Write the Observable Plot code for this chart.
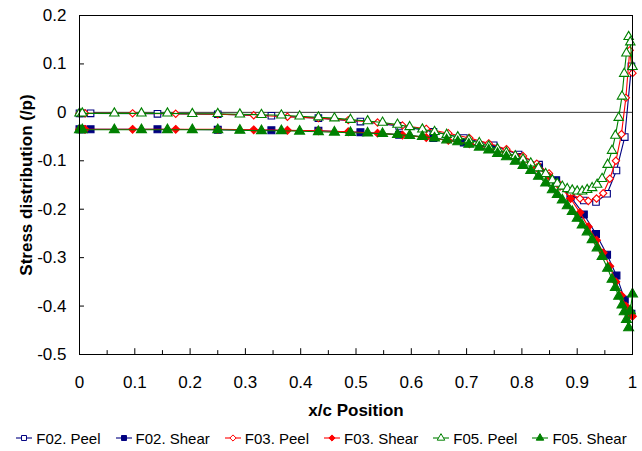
<!DOCTYPE html>
<html><head><meta charset="utf-8">
<script src="https://cdn.jsdelivr.net/npm/d3@7"></script>
<script src="https://cdn.jsdelivr.net/npm/@observablehq/plot@0.6"></script>
<style>
body{margin:0;background:#fff;}
#chart svg{display:block;}
#chart g[aria-label="x-axis label"] text, #chart g[aria-label="y-axis label"] text{font-weight:bold;}
#legend{display:flex;justify-content:center;gap:14px;height:28px;align-items:center;font-family:"Liberation Sans",Arial,sans-serif;font-size:15px;color:#000;}
#legend .item{display:flex;align-items:center;gap:3px;white-space:nowrap;}
</style></head>
<body><div id="chart"></div><div id="legend"></div>
<script>
const FONT = '"Liberation Sans",Arial,sans-serif';

// Tick labels
const xTicks = [0, 0.1, 0.2, 0.3, 0.4, 0.5, 0.6, 0.7, 0.8, 0.9, 1];
const xMinorTicks = [0.05, 0.15, 0.25, 0.35, 0.45, 0.55, 0.65, 0.75, 0.85, 0.95];
const yTicks = [-0.5, -0.4, -0.3, -0.2, -0.1, 0, 0.1, 0.2];
const baseline = [0];

// Series names
const seriesNames = ["F02. Peel", "F02. Shear", "F03. Peel", "F03. Shear", "F05. Peel", "F05. Shear"];

// F02
const f02X = [0, 0.005, 0.02, 0.141, 0.25, 0.347, 0.432, 0.508, 0.578, 0.64, 0.695, 0.749, 0.794, 0.831, 0.862, 0.888, 0.912, 0.934, 0.954, 0.971, 0.986, 0.998];
const f02Peel = [-0.002, -0.002, -0.002, -0.003, -0.004, -0.007, -0.012, -0.019, -0.028, -0.04, -0.053, -0.068, -0.087, -0.108, -0.145, -0.172, -0.182, -0.185, -0.168, -0.12, -0.051, 0.095];
const f02Shear = [-0.035, -0.035, -0.035, -0.035, -0.036, -0.037, -0.038, -0.041, -0.046, -0.053, -0.062, -0.075, -0.092, -0.114, -0.14, -0.174, -0.211, -0.251, -0.294, -0.337, -0.387, -0.416];

// F03
const f03X = [0, 0.01, 0.096, 0.174, 0.25, 0.315, 0.376, 0.432, 0.486, 0.539, 0.584, 0.627, 0.667, 0.705, 0.74, 0.772, 0.802, 0.827, 0.849, 0.869, 0.888, 0.905, 0.92, 0.935, 0.947, 0.959, 0.97, 0.98, 0.988, 0.995, 1.0];
const f03Peel = [-0.002, -0.002, -0.002, -0.003, -0.004, -0.006, -0.009, -0.012, -0.016, -0.021, -0.027, -0.034, -0.043, -0.053, -0.064, -0.076, -0.09, -0.106, -0.126, -0.15, -0.168, -0.178, -0.183, -0.178, -0.167, -0.137, -0.1, -0.045, 0.03, 0.128, 0.081];
const f03Shear = [-0.035, -0.035, -0.035, -0.035, -0.035, -0.036, -0.037, -0.038, -0.04, -0.043, -0.047, -0.052, -0.058, -0.065, -0.074, -0.085, -0.099, -0.114, -0.132, -0.153, -0.178, -0.207, -0.236, -0.264, -0.29, -0.318, -0.35, -0.378, -0.4, -0.413, -0.421];

// F05
const f05X = [0, 0.005, 0.063, 0.112, 0.159, 0.204, 0.25, 0.29, 0.329, 0.365, 0.398, 0.432, 0.461, 0.49, 0.521, 0.548, 0.575, 0.597, 0.62, 0.642, 0.664, 0.684, 0.704, 0.723, 0.74, 0.756, 0.772, 0.788, 0.802, 0.816, 0.83, 0.843, 0.855, 0.864, 0.873, 0.882, 0.891, 0.9, 0.909, 0.918, 0.927, 0.936, 0.945, 0.955, 0.963, 0.969, 0.975, 0.981, 0.985, 0.989, 0.993, 0.996, 1.0];
const f05Peel = [-0.002, -0.002, -0.002, -0.002, -0.002, -0.003, -0.003, -0.004, -0.005, -0.006, -0.008, -0.01, -0.012, -0.015, -0.018, -0.021, -0.025, -0.03, -0.035, -0.04, -0.046, -0.051, -0.057, -0.063, -0.07, -0.076, -0.083, -0.09, -0.097, -0.105, -0.115, -0.127, -0.14, -0.147, -0.153, -0.158, -0.161, -0.163, -0.163, -0.16, -0.156, -0.149, -0.137, -0.108, -0.079, -0.048, -0.011, 0.033, 0.08, 0.122, 0.156, 0.145, 0.094];
const f05Shear = [-0.036, -0.036, -0.036, -0.036, -0.036, -0.036, -0.036, -0.037, -0.038, -0.038, -0.039, -0.04, -0.041, -0.042, -0.043, -0.044, -0.046, -0.048, -0.05, -0.053, -0.057, -0.061, -0.066, -0.072, -0.078, -0.085, -0.092, -0.101, -0.11, -0.12, -0.132, -0.146, -0.16, -0.17, -0.181, -0.193, -0.205, -0.219, -0.233, -0.247, -0.263, -0.28, -0.298, -0.322, -0.345, -0.362, -0.38, -0.398, -0.412, -0.428, -0.445, -0.41, -0.375];

const NAVY = "#000080", RED = "#ff0000", GREEN = "#008000";
const series = [
  {name: seriesNames[0], xs: f02X, ys: f02Peel, color: NAVY, symbol: "square", open: true, r: 3.7},
  {name: seriesNames[1], xs: f02X, ys: f02Shear, color: NAVY, symbol: "square", open: false, r: 3.9},
  {name: seriesNames[2], xs: f03X, ys: f03Peel, color: RED, symbol: "diamond2", open: true, r: 3.3},
  {name: seriesNames[3], xs: f03X, ys: f03Shear, color: RED, symbol: "diamond2", open: false, r: 3.5},
  {name: seriesNames[4], xs: f05X, ys: f05Peel, color: GREEN, symbol: "triangle", open: true, r: 3.5},
  {name: seriesNames[5], xs: f05X, ys: f05Shear, color: GREEN, symbol: "triangle", open: false, r: 3.7}
];

const yMin = -0.5, yMax = 0.2, xMin = 0, xMax = 1;
const fmt = d => d === 0 ? "0" : (d === 1 ? "1" : d.toFixed(1));

const marks = [
  Plot.ruleY(baseline, {stroke: "#333", strokeWidth: 1}),
  Plot.ruleX(xTicks, {x: d => d, y1: yMin, y2: yMin + 0.012, stroke: "#000"}),
  Plot.ruleX(xMinorTicks, {x: d => d, y1: yMin, y2: yMin + 0.008, stroke: "#000"}),
  Plot.ruleY(yTicks, {y: d => d, x1: xMin, x2: xMin + 0.009, stroke: "#000"})
];
for (const s of series) {
  const data = s.xs.map((x, i) => ({x, y: s.ys[i]}));
  marks.push(Plot.line(data, {x: "x", y: "y", stroke: s.color, strokeWidth: 1.1}));
  marks.push(Plot.dot(data, {x: "x", y: "y", symbol: s.symbol, r: s.r, fill: s.open ? "white" : s.color, stroke: s.color, strokeWidth: 1.1}));
}
marks.push(Plot.frame({stroke: "#000", strokeWidth: 1}));

const H = 424;
const chart = Plot.plot({
  width: 642, height: H,
  marginLeft: 79, marginRight: 10, marginTop: 15, marginBottom: H - 354,
  style: {fontFamily: FONT, fontSize: "17px", color: "#000", background: "#fff", overflow: "visible"},
  x: {domain: [xMin, xMax], ticks: xTicks, tickFormat: fmt, tickSize: 0, tickPadding: 21,
      label: "x/c Position", labelAnchor: "center", labelOffset: 61, labelArrow: "none"},
  y: {domain: [yMin, yMax], ticks: yTicks, tickFormat: fmt, tickSize: 0, tickPadding: 13,
      label: "Stress distribution (/p)", labelAnchor: "center", labelOffset: 60, labelArrow: "none"},
  marks
});
document.getElementById("chart").appendChild(chart);

// Legend
const symMap = {square: d3.symbolSquare, diamond2: d3.symbolDiamond2, triangle: d3.symbolTriangle};
const legend = d3.select("#legend");
for (const s of series) {
  const item = legend.append("div").attr("class", "item");
  const sv = item.append("svg").attr("width", 18).attr("height", 14);
  sv.append("line").attr("x1", 1).attr("x2", 17).attr("y1", 7).attr("y2", 7).attr("stroke", s.color).attr("stroke-width", 1.1);
  sv.append("path").attr("transform", "translate(9,7)")
    .attr("d", d3.symbol(symMap[s.symbol], Math.PI * 2.8 * 2.8)())
    .attr("fill", s.open ? "white" : s.color).attr("stroke", s.color).attr("stroke-width", 1);
  item.append("span").text(s.name);
}
</script>
</body></html>
